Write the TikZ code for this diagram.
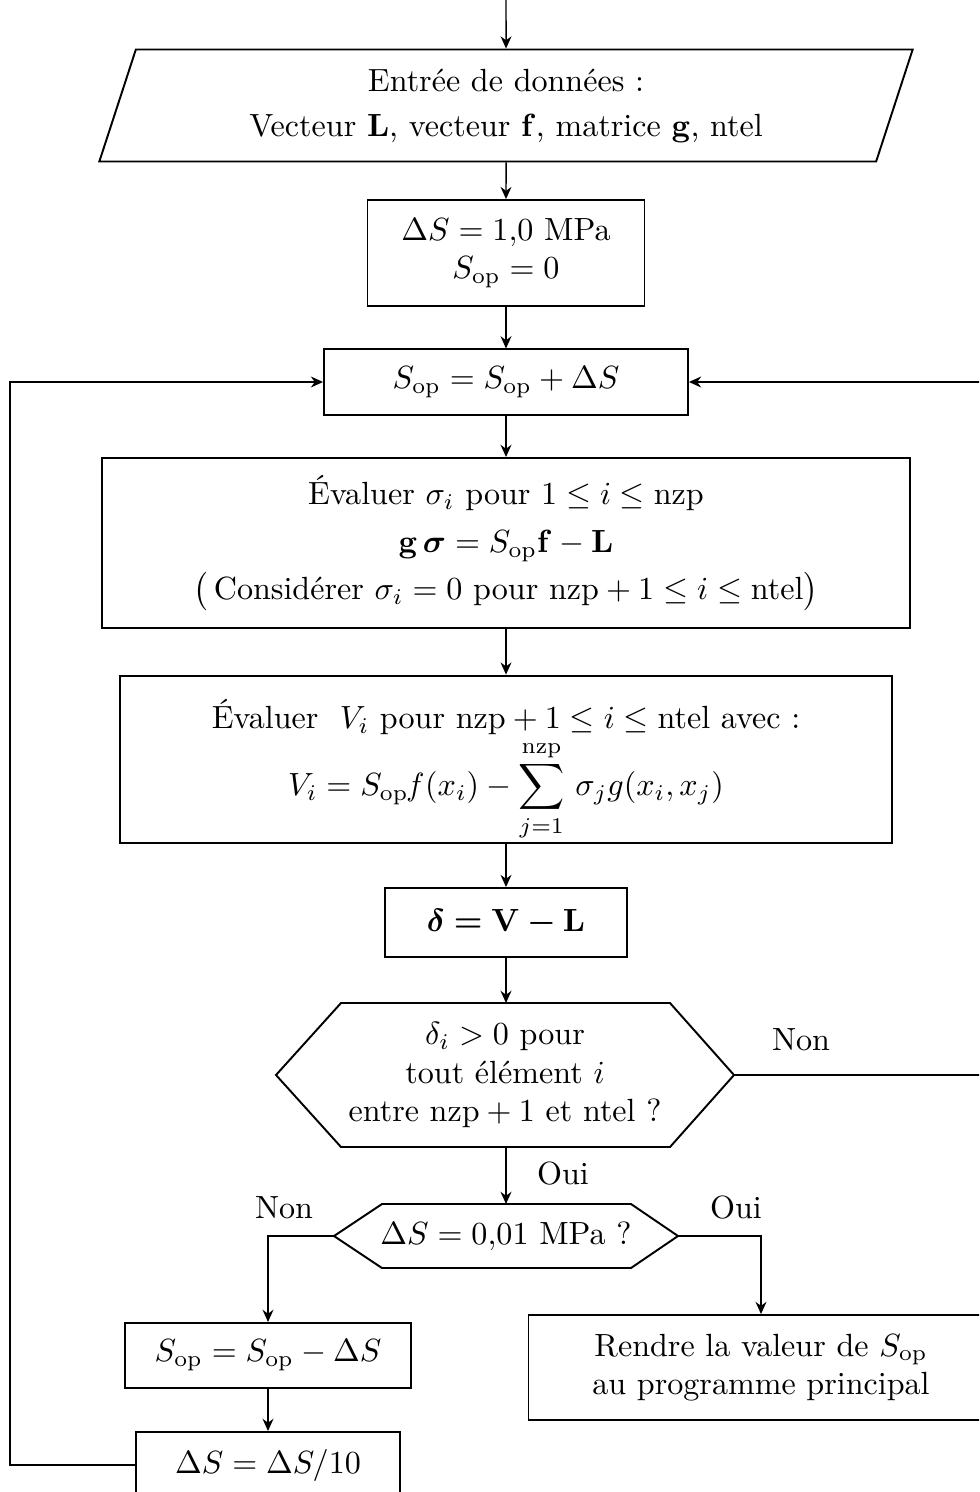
\documentclass[tikz,border=0pt]{standalone}
\usepackage{amsmath,amssymb}
\usetikzlibrary{shapes.geometric,arrows.meta}

\newcommand{\op}{\text{op}}

\begin{document}
\begin{tikzpicture}[x=0.3116pt,y=-0.3116pt,
    box/.style={draw,line width=0.6pt,align=center,inner sep=0pt},
    arr/.style={line width=0.45pt,-{Stealth[length=3.8pt,width=3.4pt]}},
    lbl/.style={inner sep=0pt}]
        \clip (0,0) rectangle (979,1492);
        % entree des donnees
        \coordinate (start) at (506,0);
        \node[box,trapezium,trapezium left angle=71,trapezium right angle=109,
              trapezium stretches=true,minimum width=254pt,minimum height=34.9pt]
            (data) at (506,105.5)
            {Entrée de données :\\[2pt]
             Vecteur $\mathbf{L}$, vecteur $\mathbf{f}$, matrice $\mathbf{g}$, ntel};
        \node[box,minimum width=86.3pt,minimum height=33pt] (init) at (506,253)
            {$\Delta S = 1{,}0$ MPa\\ $S_{\op} = 0$};
        \node[box,minimum width=113.4pt,minimum height=20.3pt] (incr) at (506,382)
            {$S_{\op} = S_{\op} + \Delta S$};
        \node[box,minimum width=251.8pt,minimum height=53pt] (sigma) at (506,543)
            {Évaluer $\sigma_i$ pour $1 \le i \le \mathrm{nzp}$\\[3pt]
             $\mathbf{g}\,\boldsymbol{\sigma} = S_{\op}\mathbf{f} - \mathbf{L}$\\[2.5pt]
             $\bigl($\,Considérer $\sigma_i = 0$ pour $\mathrm{nzp} + 1 \le i \le \mathrm{ntel}\bigr)$};
        \node[box,minimum width=240.6pt,minimum height=52.3pt] (volt) at (506,759.5) {};
        \node[align=center] (voltTxt) at (506,770)
            {Évaluer \ $V_i$ pour $\mathrm{nzp} + 1 \le i \le \mathrm{ntel}$ avec :\\[1pt]
             $\displaystyle V_i = S_{\op}\mathit{f}(x_i) - \sum_{j=1}^{\mathrm{nzp}} \, \sigma_j g(x_i, x_j)$};
        \node[box,minimum width=75.4pt,minimum height=21.5pt] (delta) at (506,922.5)
            {$\boldsymbol{\delta} \boldsymbol{=} \mathbf{V} \boldsymbol{-} \mathbf{L}$};

        % test 1
        \draw[line width=0.6pt] (276,1075) coordinate (test1W) -- (341,1003) -- (670,1003)
            -- (734,1075) coordinate (test1E) -- (670,1147) -- (341,1147) -- cycle;
        \coordinate (test1N) at (506,1003);
        \coordinate (test1S) at (506,1147);
        \node[align=center] (test1) at (505,1075)
            {$\delta_i > 0$ pour\\ tout élément $i$\\ entre $\mathrm{nzp} + 1$ et ntel ?};

        % test 2
        \draw[line width=0.6pt] (334,1236) coordinate (test2W) -- (382,1204) -- (631,1204)
            -- (678,1236) coordinate (test2E) -- (631,1268) -- (382,1268) -- cycle;
        \coordinate (test2N) at (506,1204);
        \node (test2) at (506,1236) {$\Delta S = 0{,}01$ MPa ?};

        \node[box,minimum width=89.4pt,minimum height=20.3pt] (decr) at (268,1355.5)
            {$S_{\op} = S_{\op} - \Delta S$};
        \node[box,minimum width=82.3pt,minimum height=20.6pt] (step10) at (268,1465)
            {$\Delta S = \Delta S/10$};
        \node[box,minimum width=144.9pt,minimum height=32.7pt] (rendre) at (761,1367.5)
            {Rendre la valeur de $S_{\op}$\\ au programme principal};

        % labels
        \node[lbl] (non1) at (801,1040) {Non};
        \node[lbl] (oui1) at (563,1174) {Oui};
        \node[lbl] (non2) at (284,1208) {Non};
        \node[lbl] (oui2) at (736,1208) {Oui};

        % liaisons
        \coordinate (loopL) at (10,900);
        \coordinate (loopR) at (990,700);
        \draw[arr] (start) -- (data.north);
        \draw[arr] (data.south) -- (init.north);
        \draw[arr] (init.south) -- (incr.north);
        \draw[arr] (incr.south) -- (sigma.north);
        \draw[arr] (sigma.south) -- (volt.north);
        \draw[arr] (volt.south) -- (delta.north);
        \draw[arr] (delta.south) -- (test1N);
        \draw[arr] (test1S) -- (test2N);
        \draw[arr] (test2W) -| (decr.north);
        \draw[arr] (test2E) -| (rendre.north);
        \draw[arr] (decr.south) -- (step10.north);
        \draw[arr,line width=0.6pt] (step10.west) -| (loopL) |- (incr.west);
        \draw[arr,line width=0.6pt] (test1E) -| (loopR) |- (incr.east);
    \end{tikzpicture}
\end{document}
